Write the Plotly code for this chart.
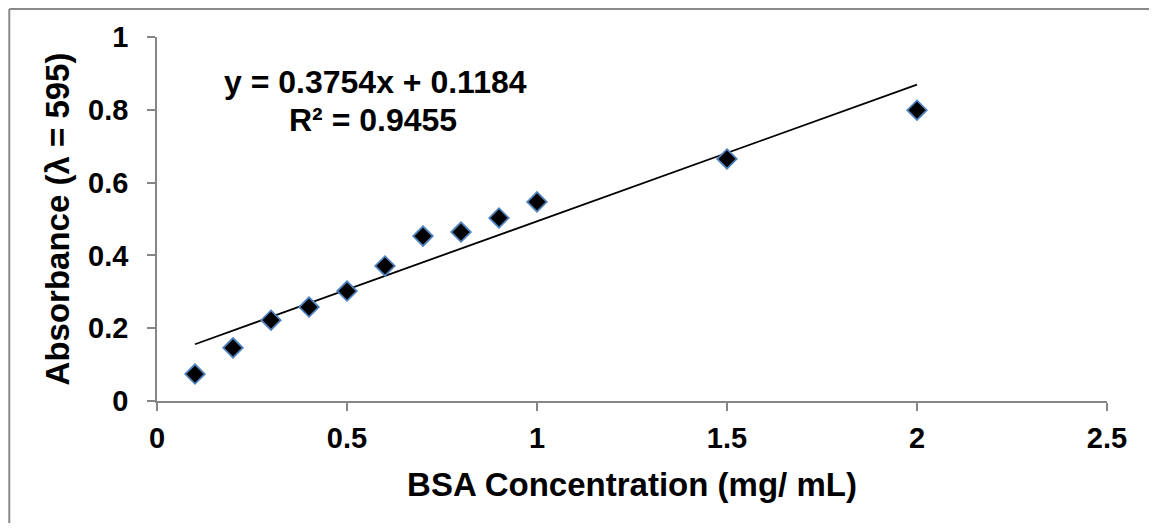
import plotly.graph_objects as go

# Data
conc = [0.1, 0.2, 0.3, 0.4, 0.5, 0.6, 0.7, 0.8, 0.9, 1.0, 1.5, 2.0]
absorb = [0.074, 0.146, 0.222, 0.258, 0.302, 0.371, 0.453, 0.464, 0.503, 0.547, 0.665, 0.799]
slope = 0.3754
intercept = 0.1184
r_squared = 0.9455
x_ticks = [0, 0.5, 1, 1.5, 2, 2.5]
x_tick_labels = ["0", "0.5", "1", "1.5", "2", "2.5"]
y_ticks = [0, 0.2, 0.4, 0.6, 0.8, 1]
y_tick_labels = ["0", "0.2", "0.4", "0.6", "0.8", "1"]

FONT = "Liberation Sans, Arial, sans-serif"
AXIS_GRAY = "#868686"
BORDER = "#898989"

trend_x = [min(conc), max(conc)]
trend_y = [slope * v + intercept for v in trend_x]

fig = go.Figure()
fig.add_trace(go.Scatter(
    x=trend_x, y=trend_y, mode="lines",
    line=dict(color="black", width=1.8),
    hoverinfo="skip", showlegend=False,
))
fig.add_trace(go.Scatter(
    x=conc, y=absorb, mode="markers",
    marker=dict(symbol="diamond", size=15, color="black",
                line=dict(color="#4F81BD", width=1.8)),
    showlegend=False,
))

ann_font = dict(family=FONT, size=32, color="black", weight="bold")
fig.add_annotation(
    x=0.574, y=0.876, xref="x", yref="y",
    text=f"y = {slope}x + {intercept}",
    showarrow=False, xanchor="center", yanchor="middle",
    font=ann_font,
)
fig.add_annotation(
    x=0.568, y=0.773, xref="x", yref="y",
    text=f"R² = {r_squared}",
    showarrow=False, xanchor="center", yanchor="middle",
    font=ann_font,
)

# outer chart border (only top and left edges are visible in the picture)
fig.add_shape(type="line", xref="paper", yref="paper",
              x0=-0.1555, x1=1.2, y0=1.0766, y1=1.0766,
              line=dict(color=BORDER, width=2), layer="below")
fig.add_shape(type="line", xref="paper", yref="paper",
              x0=-0.1555, x1=-0.1555, y0=-0.6, y1=1.0766,
              line=dict(color=BORDER, width=2), layer="below")

fig.update_layout(
    width=1141, height=515,
    margin=dict(l=149, r=42, t=29, b=122),
    paper_bgcolor="white", plot_bgcolor="white",
    font=dict(family=FONT, color="black"),
)
fig.update_xaxes(
    range=[0, 2.5], tickvals=x_ticks, ticktext=x_tick_labels,
    showgrid=False, zeroline=False, showline=True, linecolor=AXIS_GRAY, linewidth=1.5,
    ticks="outside", ticklen=8, tickcolor=AXIS_GRAY, tickwidth=1.5,
    ticklabelstandoff=2, automargin=False,
    tickfont=dict(family=FONT, size=29, color="black", weight="bold"),
    title=dict(text="BSA Concentration (mg/ mL)", standoff=20,
               font=dict(family=FONT, size=33, color="black", weight="bold")),
)
fig.update_yaxes(
    range=[0, 1], tickvals=y_ticks, ticktext=y_tick_labels,
    showgrid=False, zeroline=False, showline=True, linecolor=AXIS_GRAY, linewidth=1.5,
    ticks="outside", ticklen=8, tickcolor=AXIS_GRAY, tickwidth=1.5,
    ticklabelstandoff=13, automargin=False,
    tickfont=dict(family=FONT, size=29, color="black", weight="bold"),
    title=dict(text="Absorbance (λ = 595)", standoff=9,
               font=dict(family=FONT, size=33, color="black", weight="bold")),
)

fig.write_html("out.html")
